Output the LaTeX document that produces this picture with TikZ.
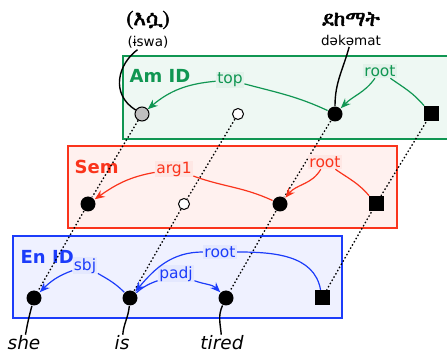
\documentclass[tikz,border=0pt]{standalone}
\usepackage{fontspec}
\setmainfont{DejaVu Sans}
\IfFontExistsTF{FreeSerif}
	{\newfontfamily\ethfont[FakeBold=2.5]{FreeSerif}}
	{\newfontfamily\ethfont{DejaVu Sans}}
\usetikzlibrary{arrows.meta}
\definecolor{amgreen}{RGB}{16,150,82}
\definecolor{semred}{RGB}{250,52,28}
\definecolor{enblue}{RGB}{28,60,250}
\tikzset{
	x=1pt, y=1pt,
	every path/.style = {line width=1.4pt},
	tier/.style = {draw=#1, fill=#1!7, line width=1.1pt},
	title/.style = {text=#1, anchor=west, inner sep=0pt, font=\fontsize{18}{18}\selectfont\bfseries},
	rel/.style = {text=#1, fill=#1!12, inner sep=1pt, font=\fontsize{15.5}{15.5}\selectfont},
	dep/.style = {draw=#1, line width=1.2pt},
	ar/.style = {-{Stealth[length=10pt,width=8pt]}},
	word/.style = {circle, fill=black, minimum size=15pt, inner sep=0pt},
	pro/.style = {circle, draw, line width=1pt, fill=gray!50, minimum size=14pt, inner sep=0pt},
	gap/.style = {circle, draw, line width=1pt, fill=white, minimum size=11pt, inner sep=0pt,
		path picture={\fill (path picture bounding box.center) circle (0.9pt);}},
	rootsq/.style = {rectangle, fill=black, minimum size=15pt, inner sep=0pt},
	link/.style = {dash pattern=on 1.5pt off 2.2pt, line width=1.3pt},
	lex/.style = {inner sep=0.5pt, font=\fontsize{18.5}{18.5}\selectfont\itshape},
	gloss/.style = {inner sep=1pt, font=\fontsize{13.5}{13.5}\selectfont},
	amh/.style = {inner sep=1pt, font=\ethfont\fontsize{21}{21}\selectfont}
}

\begin{document}
\begin{tikzpicture}
	\useasboundingbox (0,0) rectangle (447,356);
	\draw[tier=amgreen] (123,300) rectangle (452,217);
	\draw[tier=semred] (68,210) rectangle (397,128);
	\draw[tier=enblue] (13,120) rectangle (342,38);
	\node[title=amgreen] at (129,280) {Am ID};
	\node[title=semred] at (74,189) {Sem};
	\node[title=enblue] at (20,99) {En ID};
	\node[pro] (a1) at (142,242) {};
	\node[gap] (a2) at (238,242) {};
	\node[word] (a3) at (335,242) {};
	\node[rootsq] (a4) at (431,242) {};
	\node[word] (s1) at (88,152) {};
	\node[gap] (s2) at (184,152) {};
	\node[word] (s3) at (280,152) {};
	\node[rootsq] (s4) at (376,152) {};
	\node[word] (e1) at (34,58) {};
	\node[word] (e2) at (130,58) {};
	\node[word] (e3) at (226,58) {};
	\node[rootsq] (e4) at (322,58) {};
	\draw[link] (a1) -- (s1) -- (e1);
	\draw[link] (a2) -- (s2) -- (e2);
	\draw[link] (a3) -- (s3) -- (e3);
	\draw[link] (a4) -- (s4) -- (e4);
	\node[amh] (amh1) at (148,336) {(እሷ)};
	\node[gloss] (tr1) at (148,314) {(ɨswa)};
	\node[amh] (amh2) at (351,337) {ደከማት};
	\node[gloss] (tr2) at (351,316) {dəkəmat};
	\node[lex, anchor=base] (w1) at (24,6) {she};
	\node[lex, anchor=base] (w2) at (122,6) {is};
	\node[lex, anchor=base] (w3) at (222,6) {tired};
	\node[rel=amgreen] (atop) at (230,276) {top};
	\node[rel=amgreen] (aroot) at (380,285) {root};
	\node[rel=semred] (sarg) at (174,187) {arg1};
	\node[rel=semred] (sroot) at (325,194) {root};
	\node[rel=enblue] (esbj) at (85,90) {sbj};
	\node[rel=enblue] (epadj) at (176,82) {padj};
	\node[rel=enblue] (eroot) at (220,104) {root};
	\draw[dep=amgreen] (a3) to[out=155,in=-15] (atop);
	\draw[dep=amgreen, ar] (atop) to[out=185,in=40] (a1);
	\draw[dep=amgreen] (a4) to[out=130,in=-35] (aroot);
	\draw[dep=amgreen, ar] (aroot) to[out=-125,in=45] (a3);
	\draw[dep=semred] (s3) to[out=155,in=-20] (sarg);
	\draw[dep=semred, ar] (sarg) to[out=190,in=35] (s1);
	\draw[dep=semred] (s4) to[out=130,in=-35] (sroot);
	\draw[dep=semred, ar] (sroot) to[out=-120,in=50] (s3);
	\draw[dep=enblue] (e2) to[out=135,in=-30] (esbj);
	\draw[dep=enblue, ar] (esbj) to[out=200,in=45] (e1);
	\draw[dep=enblue] (e2) to[out=40,in=200] (epadj);
	\draw[dep=enblue, ar] (epadj) to[out=-20,in=135] (e3);
	\draw[dep=enblue] (e4) to[out=100,in=0] (eroot);
	\draw[dep=enblue, ar] (eroot) to[out=180,in=50] (e2);
	\draw (tr1) .. controls (118,292) and (110,262) .. (a1);
	\draw (tr2) to[out=-105,in=90] (a3);
	\draw (e1) to[out=-105,in=80] (w1);
	\draw (e2) to[out=-95,in=85] (w2);
	\draw (e3) to[out=-115,in=95] (w3);
\end{tikzpicture}
\end{document}
